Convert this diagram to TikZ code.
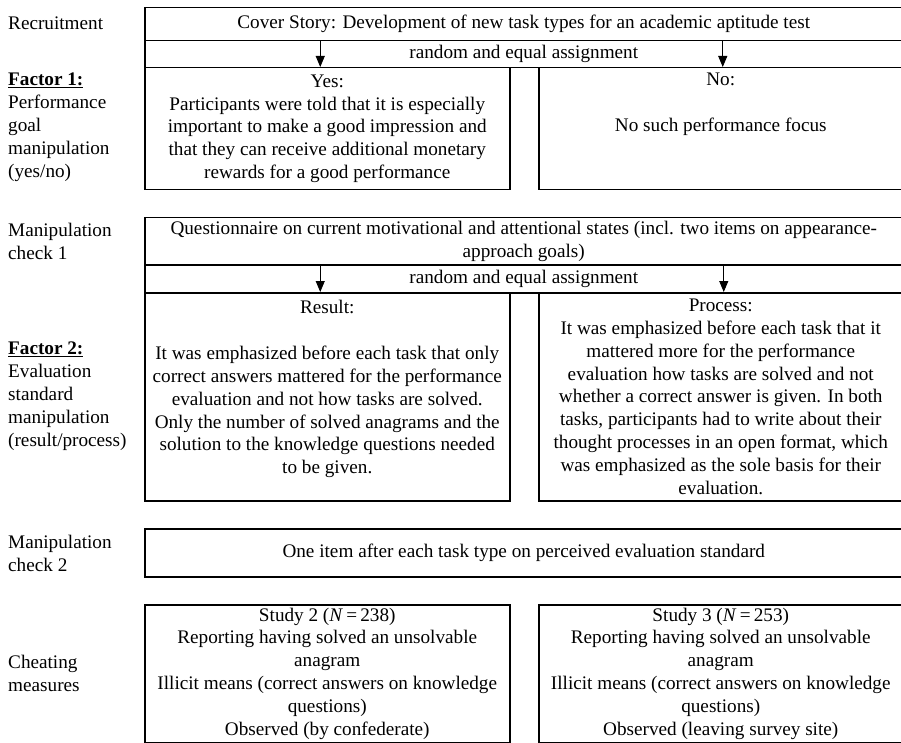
\documentclass[tikz,border=0pt]{standalone}
\usepackage{fontspec}
\setmainfont{Liberation Serif}
\usetikzlibrary{arrows.meta,positioning}

\tikzset{
  box/.style={draw, line width=1.5pt, inner sep=0pt, align=center, anchor=north west},
  wide/.style={box, minimum width=758pt},
  half/.style={box, minimum width=365pt},
  lab/.style={anchor=west, align=left, inner sep=0pt},
  assign/.style={-{Triangle[length=11pt,width=9pt]}, line width=0.9pt},
}

\begin{document}
\begin{tikzpicture}[x=1pt, y=-1pt, font=\fontsize{19.2}{22.9}\selectfont]
  \useasboundingbox (0,0) rectangle (901,743);
  % left column
  \node[lab] (recr) at (8,23) {Recruitment};
  \node[lab] (fac1) at (8,127) {\underline{\textbf{Factor 1:}}\\Performance\\goal\\manipulation\\(yes/no)};
  \node[lab] (mc1) at (8,241) {Manipulation\\check 1};
  \node[lab] (fac2) at (8,396) {\underline{\textbf{Factor 2:}}\\Evaluation\\standard\\manipulation\\(result/process)};
  \node[lab] (mc2) at (8,553) {Manipulation\\check 2};
  \node[lab] (cheat) at (8,673) {Cheating\\measures};
  % boxes
  \node[wide, minimum height=33pt] (cover) at (144,7) {Cover Story: Development of new task types for an academic aptitude test};
  \node[wide, minimum height=27pt] (rand1) at (144,40) {random and equal assignment};
  \node[half, minimum height=122pt] (yes) at (144,67) {Yes:\\Participants were told that it is especially\\important to make a good impression and\\that they can receive additional monetary\\rewards for a good performance};
  \node[half, minimum width=364pt, minimum height=122pt] (no) at (538,67) {};
  \node[align=center, anchor=north, inner sep=0pt] (notxt) at ([yshift=-6pt]no.north) {No:\\[22.9pt]No such performance focus};
  \node[wide, minimum height=47pt] (quest) at (144,217) {Questionnaire on current motivational and attentional states (incl. two items on appearance-\\approach goals)};
  \node[wide, minimum height=28pt] (rand2) at (144,264) {random and equal assignment};
  \node[half, minimum height=208pt] (result) at (144,292) {};
  \node[half, minimum width=364pt, minimum height=208pt] (process) at (538,292) {Process:\\It was emphasized before each task that it\\mattered more for the performance\\evaluation how tasks are solved and not\\whether a correct answer is given. In both\\tasks, participants had to write about their\\thought processes in an open format, which\\was emphasized as the sole basis for their\\evaluation.};
  \node[align=center, anchor=north, inner sep=0pt] (restxt) at ([yshift=-8pt]result.north) {Result:\\[22.9pt]It was emphasized before each task that only\\correct answers mattered for the performance\\evaluation and not how tasks are solved.\\Only the number of solved anagrams and the\\solution to the knowledge questions needed\\to be given.};
  \node[wide, minimum height=48pt] (check2) at (144,528) {One item after each task type on perceived evaluation standard};
  \node[half, minimum height=138pt] (study2) at (144,604) {Study 2 (\textit{N}\,=\,238)\\Reporting having solved an unsolvable\\anagram\\Illicit means (correct answers on knowledge\\questions)\\Observed (by confederate)};
  \node[half, minimum width=364pt, minimum height=138pt] (study3) at (538,604) {Study 3 (\textit{N}\,=\,253)\\Reporting having solved an unsolvable\\anagram\\Illicit means (correct answers on knowledge\\questions)\\Observed (leaving survey site)};
  % assignment arrows
  \draw[assign] ([xshift=-7pt]yes.north |- cover.south) -- ([xshift=-7pt]yes.north);
  \draw[assign] ([xshift=2pt]no.north |- cover.south) -- ([xshift=2pt]no.north);
  \draw[assign] ([xshift=-7pt]result.north |- quest.south) -- ([xshift=-7pt]result.north);
  \draw[assign] ([xshift=3pt]process.north |- quest.south) -- ([xshift=3pt]process.north);
\end{tikzpicture}
\end{document}
